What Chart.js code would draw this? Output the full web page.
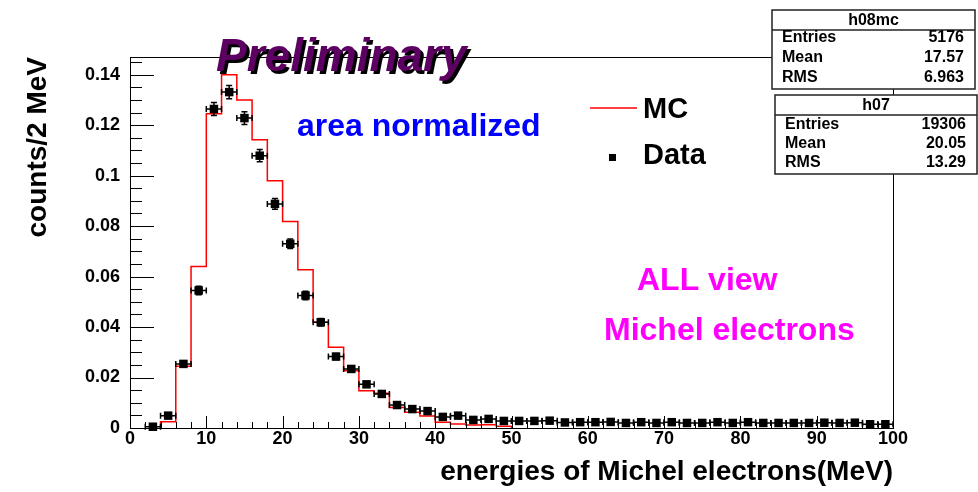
<!DOCTYPE html>
<html>
<head>
<meta charset="utf-8">
<title>Michel electrons</title>
<script src="https://cdn.jsdelivr.net/npm/chart.js@4.4.1/dist/chart.umd.min.js"></script>
<style>
  html, body { margin: 0; padding: 0; background: #fff; }
  #wrap { width: 978px; height: 492px; position: relative; }
</style>
</head>
<body>
<div id="wrap"><canvas id="michelChart"></canvas></div>
<script>
// bin centres, 2 MeV bins from 0 to 100
const energyCenters = [1, 3, 5, 7, 9, 11, 13, 15, 17, 19,
                       21, 23, 25, 27, 29, 31, 33, 35, 37, 39,
                       41, 43, 45, 47, 49, 51, 53, 55, 57, 59,
                       61, 63, 65, 67, 69, 71, 73, 75, 77, 79,
                       81, 83, 85, 87, 89, 91, 93, 95, 97, 99];
const binHalfWidth = 1;

// MC (h08mc), area normalized
const mcCounts = [0, 0, 0.0025, 0.0245, 0.064, 0.1245, 0.140, 0.130, 0.1142, 0.098,
                  0.0818, 0.0627, 0.0419, 0.032, 0.0227, 0.0148, 0.0138, 0.0081, 0.0062, 0.0048,
                  0.0023, 0.0016, 0.0012, 0.0013, 0.0007, 0, 0, 0, 0, 0,
                  0, 0, 0, 0, 0, 0, 0, 0, 0, 0,
                  0, 0, 0, 0, 0, 0, 0, 0, 0, 0];

// Data (h07), area normalized
const dataCounts = [null, 0.0005, 0.0049, 0.0254, 0.0545, 0.1264, 0.1331, 0.1228, 0.1079, 0.0888,
                    0.073, 0.0525, 0.0419, 0.0283, 0.0234, 0.0173, 0.0135, 0.0091, 0.0075, 0.0067,
                    0.0044, 0.0049, 0.0032, 0.0036, 0.0028, 0.0028, 0.0028, 0.0029, 0.0022, 0.0023,
                    0.0023, 0.0024, 0.0020, 0.0023, 0.0020, 0.0023, 0.0020, 0.0020, 0.0023, 0.0020,
                    0.0023, 0.0020, 0.0020, 0.0020, 0.0020, 0.0021, 0.0020, 0.0021, 0.0015, 0.0015];
const dataErrors = [null, 0.0004, 0.0005, 0.0012, 0.0017, 0.0026, 0.0026, 0.0025, 0.0024, 0.0021,
                    0.0019, 0.0017, 0.0015, 0.0012, 0.0011, 0.0009, 0.0008, 0.0007, 0.0006, 0.0006,
                    0.0005, 0.0005, 0.0004, 0.0004, 0.0004, 0.0004, 0.0004, 0.0004, 0.0003, 0.0003,
                    0.0003, 0.0003, 0.0003, 0.0003, 0.0003, 0.0003, 0.0003, 0.0003, 0.0003, 0.0003,
                    0.0003, 0.0003, 0.0003, 0.0003, 0.0003, 0.0003, 0.0003, 0.0003, 0.0003, 0.0003];

const xTickValues = [0, 10, 20, 30, 40, 50, 60, 70, 80, 90, 100];
const yTickValues = [0, 0.02, 0.04, 0.06, 0.08, 0.1, 0.12, 0.14];
const yTickLabels = ['0', '0.02', '0.04', '0.06', '0.08', '0.1', '0.12', '0.14'];

const statsBoxes = [
  { name: 'h08mc', entries: '5176', mean: '17.57', rms: '6.963' },
  { name: 'h07', entries: '19306', mean: '20.05', rms: '13.29' }
];

const FONT = "'Liberation Sans', Arial, Helvetica, sans-serif";

// MC histogram outline from bin contents
const firstBin = mcCounts.findIndex(v => v > 0);
let lastBin = mcCounts.length - 1;
while (lastBin > 0 && !(mcCounts[lastBin] > 0)) lastBin--;
const mcPoints = [{ x: energyCenters[firstBin] - binHalfWidth, y: 0 }];
for (let i = firstBin; i <= lastBin; i++) {
  mcPoints.push({ x: energyCenters[i] - binHalfWidth, y: mcCounts[i] });
  mcPoints.push({ x: energyCenters[i] + binHalfWidth, y: mcCounts[i] });
}
mcPoints.push({ x: energyCenters[lastBin] + binHalfWidth, y: 0 });

const dataPoints = energyCenters.map((c, i) => ({ x: c, y: dataCounts[i], err: dataErrors[i] }))
  .filter(p => p.y !== null);

// error bars drawn just before the data markers
const errorBars = {
  id: 'errorBars',
  beforeDatasetDraw(chart, args) {
    if (args.index !== 0) return;
    const { ctx, scales: { x, y } } = chart;
    ctx.save();
    ctx.strokeStyle = '#000';
    ctx.lineWidth = 1.5;
    for (const p of dataPoints) {
      const px = x.getPixelForValue(p.x);
      const py = y.getPixelForValue(p.y);
      const x0 = x.getPixelForValue(p.x - binHalfWidth);
      const x1 = x.getPixelForValue(p.x + binHalfWidth);
      const y0 = y.getPixelForValue(p.y - p.err);
      const y1 = y.getPixelForValue(p.y + p.err);
      ctx.beginPath();
      ctx.moveTo(x0, py); ctx.lineTo(x1, py);
      ctx.moveTo(x0, py - 3); ctx.lineTo(x0, py + 3);
      ctx.moveTo(x1, py - 3); ctx.lineTo(x1, py + 3);
      ctx.moveTo(px, y0); ctx.lineTo(px, y1);
      ctx.moveTo(px - 3, y0); ctx.lineTo(px + 3, y0);
      ctx.moveTo(px - 3, y1); ctx.lineTo(px + 3, y1);
      ctx.stroke();
    }
    ctx.restore();
  }
};

// ROOT-like frame with inward ticks
const frameTicks = {
  id: 'frameTicks',
  afterDatasetsDraw(chart) {
    const { ctx, chartArea: a, scales: { x, y } } = chart;
    ctx.save();
    ctx.strokeStyle = '#000';
    ctx.lineWidth = 1;
    ctx.strokeRect(a.left + 0.5, a.top + 0.5, a.right - a.left, a.bottom - a.top);
    ctx.beginPath();
    for (let v = 0; v <= 100.001; v += 2) {
      const px = Math.round(x.getPixelForValue(v)) + 0.5;
      const len = (Math.round(v) % 10 === 0) ? 12 : 6;
      ctx.moveTo(px, a.bottom); ctx.lineTo(px, a.bottom - len);
    }
    for (let k = 0; k <= 29; k++) {
      const v = k * 0.005;
      if (v > y.max) break;
      const py = Math.round(y.getPixelForValue(v)) + 0.5;
      const len = (k % 4 === 0) ? 24 : 12;
      ctx.moveTo(a.left, py); ctx.lineTo(a.left + len, py);
    }
    ctx.stroke();
    ctx.restore();
  }
};

function statsBox(ctx, s, left, top, right, bottom, headerBottom, rowY) {
  ctx.fillStyle = '#fff';
  ctx.fillRect(left, top, right - left, bottom - top);
  ctx.strokeStyle = '#222';
  ctx.lineWidth = 1.5;
  ctx.strokeRect(left, top, right - left, bottom - top);
  ctx.beginPath();
  ctx.moveTo(left, headerBottom); ctx.lineTo(right, headerBottom);
  ctx.stroke();
  ctx.fillStyle = '#000';
  ctx.font = 'bold 16px ' + FONT;
  ctx.textBaseline = 'middle';
  ctx.textAlign = 'center';
  ctx.fillText(s.name, (left + right) / 2, (top + headerBottom) / 2 + 1);
  const rows = [['Entries', s.entries], ['Mean', s.mean], ['RMS', s.rms]];
  rows.forEach((r, i) => {
    ctx.textAlign = 'left';
    ctx.fillText(r[0], left + 10, rowY[i]);
    ctx.textAlign = 'right';
    ctx.fillText(r[1], right - 11, rowY[i]);
  });
}

const annotations = {
  id: 'annotations',
  afterDraw(chart) {
    const { ctx } = chart;
    ctx.save();
    // Preliminary with shadow
    ctx.font = 'italic bold 46px ' + FONT;
    ctx.textAlign = 'left';
    ctx.textBaseline = 'alphabetic';
    ctx.fillStyle = '#000';
    ctx.fillText('Preliminary', 219, 74);
    ctx.fillStyle = '#5c0062';
    ctx.fillText('Preliminary', 216, 71);

    ctx.font = 'bold 32px ' + FONT;
    ctx.fillStyle = '#0000ff';
    ctx.fillText('area normalized', 297, 136);
    ctx.fillStyle = '#ff00ff';
    ctx.fillText('ALL view', 637, 290);
    ctx.fillText('Michel electrons', 604, 340);

    // legend
    ctx.strokeStyle = '#ff0000';
    ctx.lineWidth = 1.5;
    ctx.beginPath();
    ctx.moveTo(590, 108); ctx.lineTo(637, 108);
    ctx.stroke();
    ctx.fillStyle = '#000';
    ctx.fillRect(609, 154, 7, 7);
    ctx.font = 'bold 29px ' + FONT;
    ctx.fillText('MC', 643, 118);
    ctx.fillText('Data', 643, 164);

    statsBox(ctx, statsBoxes[0], 772, 10, 975, 89, 30, [38, 58, 78]);
    statsBox(ctx, statsBoxes[1], 775, 95, 977, 174, 115, [125, 144, 163]);
    ctx.restore();
  }
};

Chart.defaults.font.family = FONT;
Chart.defaults.color = '#000';

new Chart(document.getElementById('michelChart'), {
  type: 'scatter',
  data: {
    datasets: [
      {
        label: 'Data',
        data: dataPoints,
        pointStyle: 'rect',
        pointRadius: 6,
        pointHoverRadius: 6,
        backgroundColor: '#000',
        borderColor: '#000',
        borderWidth: 0,
        clip: false
      },
      {
        label: 'MC',
        data: mcPoints,
        showLine: true,
        pointRadius: 0,
        pointHoverRadius: 0,
        borderColor: '#ff0000',
        borderWidth: 1.5,
        tension: 0,
        fill: false
      }
    ]
  },
  options: {
    responsive: true,
    maintainAspectRatio: false,
    animation: false,
    events: [],
    layout: { padding: { top: 57, right: 85, left: 0, bottom: 0 } },
    plugins: { legend: { display: false }, tooltip: { enabled: false } },
    scales: {
      x: {
        type: 'linear',
        min: 0,
        max: 100,
        grid: { display: false, drawTicks: false },
        border: { display: false },
        afterBuildTicks: s => { s.ticks = xTickValues.map(v => ({ value: v })); },
        afterFit: s => { s.height = 64; s.paddingLeft = 0; s.paddingRight = 0; },
        ticks: {
          padding: 0,
          maxRotation: 0,
          autoSkip: false,
          font: { size: 18, weight: 'bold' },
          callback: v => String(v)
        },
        title: {
          display: true,
          text: 'energies of Michel electrons(MeV)',
          align: 'end',
          font: { size: 28, weight: 'bold' },
          padding: { top: 0, bottom: 3 }
        }
      },
      y: {
        type: 'linear',
        min: 0,
        max: 0.147,
        grid: { display: false, drawTicks: false },
        border: { display: false },
        afterBuildTicks: s => { s.ticks = yTickValues.map(v => ({ value: v })); },
        afterFit: s => { s.width = 130; s.paddingTop = 0; s.paddingBottom = 0; },
        ticks: {
          padding: 10,
          autoSkip: false,
          font: { size: 18, weight: 'bold' },
          callback: (v, i) => yTickLabels[i]
        },
        title: {
          display: true,
          text: 'counts/2 MeV',
          align: 'end',
          font: { size: 28, weight: 'bold' },
          padding: { top: 21, bottom: 0 }
        }
      }
    }
  },
  plugins: [errorBars, frameTicks, annotations]
});
</script>
</body>
</html>
